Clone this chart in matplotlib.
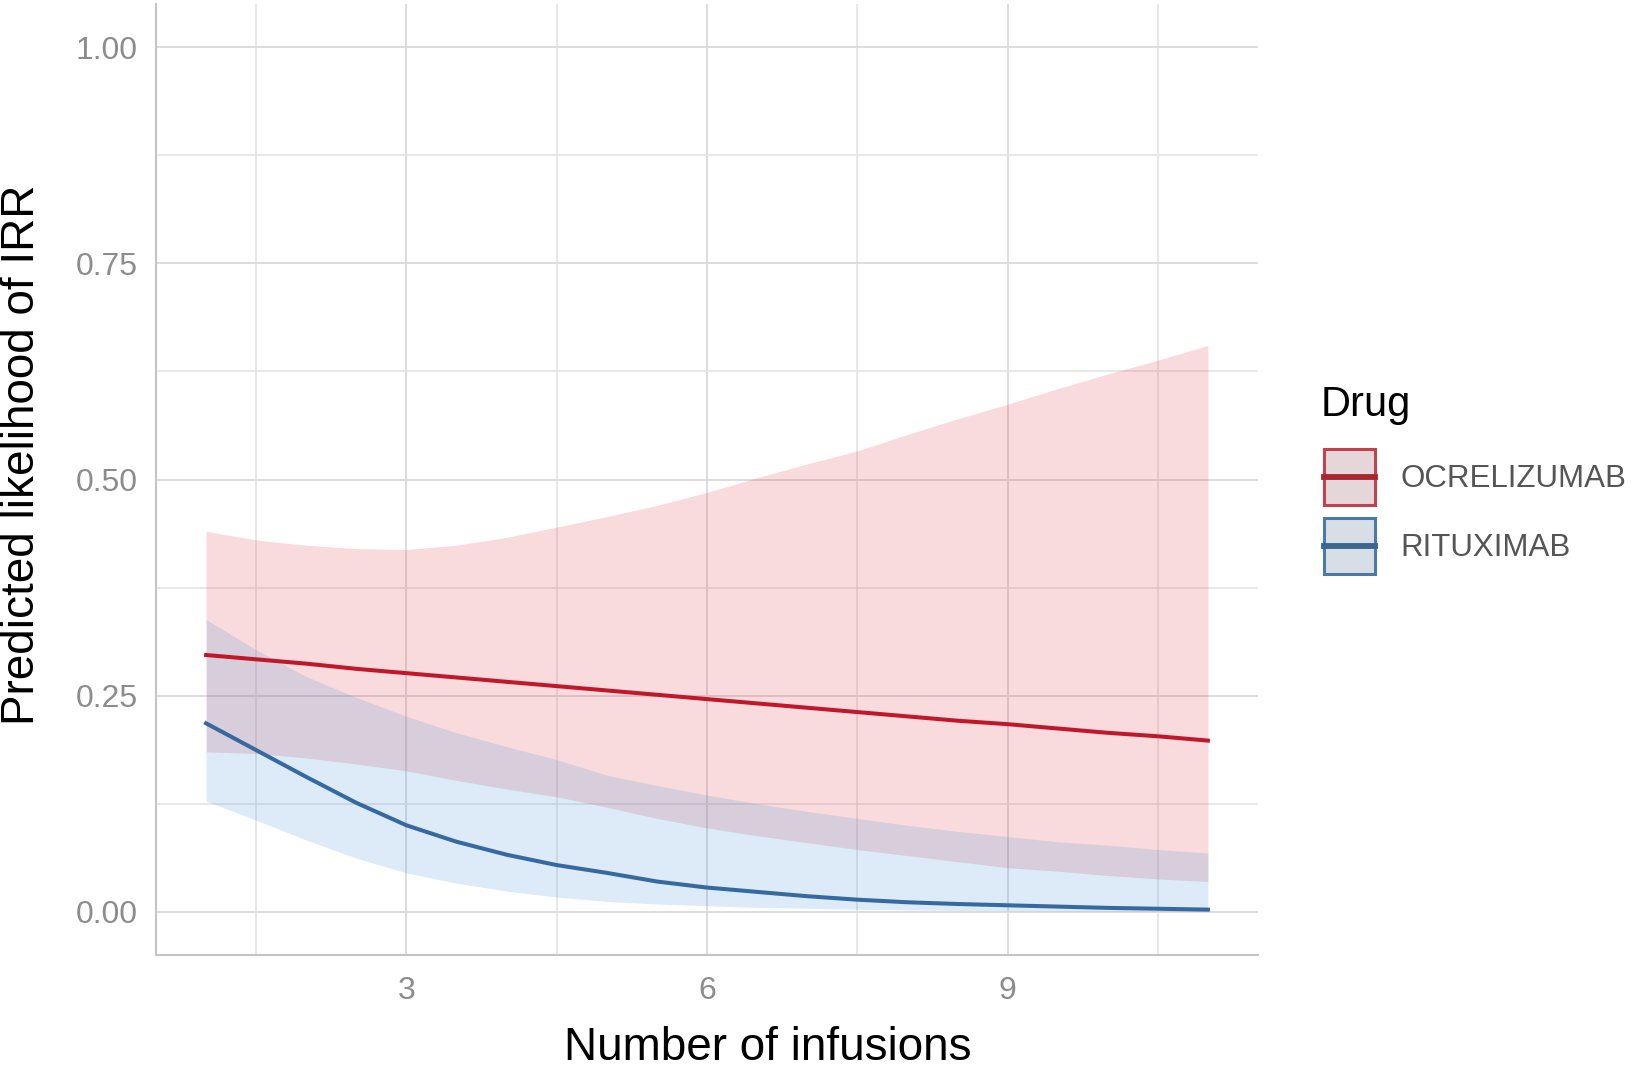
import matplotlib
matplotlib.use("Agg")
import matplotlib.pyplot as plt
from matplotlib.patches import Rectangle, Patch
from matplotlib.lines import Line2D

plt.rcParams['font.family'] = ['Liberation Sans', 'DejaVu Sans']

# ---- data ----
infusions = [1, 1.5, 2, 2.5, 3, 3.5, 4, 4.5, 5, 5.5, 6, 6.5, 7, 7.5, 8, 8.5, 9, 9.5, 10, 10.5, 11]
ocre_fit = [0.297, 0.292, 0.287, 0.281, 0.276, 0.271, 0.266, 0.261, 0.256, 0.251, 0.246,
            0.241, 0.236, 0.231, 0.226, 0.221, 0.217, 0.212, 0.207, 0.203, 0.198]
ocre_lo = [0.185, 0.183, 0.178, 0.171, 0.163, 0.152, 0.142, 0.133, 0.121, 0.108, 0.097,
           0.088, 0.080, 0.072, 0.065, 0.058, 0.051, 0.047, 0.042, 0.038, 0.035]
ocre_hi = [0.440, 0.430, 0.424, 0.420, 0.419, 0.424, 0.433, 0.445, 0.457, 0.470, 0.485,
           0.502, 0.518, 0.533, 0.552, 0.570, 0.587, 0.605, 0.622, 0.638, 0.655]
ritu_fit = [0.218, 0.187, 0.156, 0.126, 0.100, 0.081, 0.066, 0.054, 0.045, 0.035, 0.028,
            0.023, 0.018, 0.014, 0.011, 0.009, 0.0075, 0.006, 0.0045, 0.0035, 0.0025]
ritu_lo = [0.128, 0.106, 0.083, 0.062, 0.045, 0.033, 0.024, 0.017, 0.012, 0.009, 0.007,
           0.005, 0.004, 0.003, 0.0022, 0.0016, 0.0012, 0.0009, 0.0007, 0.0005, 0.0004]
ritu_hi = [0.338, 0.303, 0.272, 0.248, 0.226, 0.207, 0.191, 0.176, 0.158, 0.146, 0.135,
           0.125, 0.116, 0.108, 0.100, 0.093, 0.087, 0.081, 0.077, 0.072, 0.068]
drugs = ["OCRELIZUMAB", "RITUXIMAB"]
y_ticks = [0.0, 0.25, 0.5, 0.75, 1.0]
y_ticklabels = ["0.00", "0.25", "0.50", "0.75", "1.00"]
x_ticks = [3, 6, 9]

red_line = "#c0182a"
blue_line = "#3569a0"
red_fill = (225/255, 70/255, 85/255)
blue_fill = (80/255, 155/255, 215/255)

W, H = 1639, 1077
fig = plt.figure(figsize=(W / 100, H / 100), dpi=100)
ax = fig.add_axes([156 / W, 1 - 955 / H, (1258 - 156) / W, (955 - 4) / H])

ax.fill_between(infusions, ocre_lo, ocre_hi, color=red_fill, alpha=0.2, linewidth=0, zorder=2)
ax.fill_between(infusions, ritu_lo, ritu_hi, color=blue_fill, alpha=0.2, linewidth=0, zorder=2)
ax.plot(infusions, ocre_fit, color=red_line, lw=2.9, zorder=3)
ax.plot(infusions, ritu_fit, color=blue_line, lw=2.9, zorder=3)

ax.set_xlim(0.5, 11.5)
ax.set_ylim(-0.05, 1.05)
ax.set_xticks(x_ticks)
ax.set_xticks([1.5, 4.5, 7.5, 10.5], minor=True)
ax.set_yticks(y_ticks)
ax.set_yticklabels(y_ticklabels)
ax.set_yticks([0.125, 0.375, 0.625, 0.875], minor=True)
ax.grid(True, which='major', color='#dadada', lw=1.3, zorder=0)
ax.grid(True, which='minor', color='#e2e2e2', lw=1.1, zorder=0)
ax.set_axisbelow(True)
ax.tick_params(which='both', length=0)
ax.tick_params(axis='y', labelsize=23, labelcolor='#8c8c8c', pad=13)
ax.tick_params(axis='x', labelsize=23, labelcolor='#8c8c8c', pad=15)
for s in ['top', 'right']:
    ax.spines[s].set_visible(False)
for s in ['left', 'bottom']:
    ax.spines[s].set_color('#c4c4c4')
    ax.spines[s].set_linewidth(1.5)

fig.text(768 / W, 1 - 1060 / H, "Number of infusions", fontsize=33, color='black',
         ha='center', va='baseline')
fig.text(22 / W, 1 - 455 / H, "Predicted likelihood of IRR", fontsize=33, color='black',
         ha='center', va='center', rotation=90)


class KeyHandler:
    def __init__(self, face, edge, line):
        self.face, self.edge, self.line = face, edge, line

    def legend_artist(self, legend, orig_handle, fontsize, handlebox):
        x0, y0 = -handlebox.xdescent, -handlebox.ydescent
        w, h = handlebox.width, handlebox.height
        rect = Rectangle((x0 + 1.5, y0 + 1.5), w - 3, h - 3, facecolor=self.face,
                         edgecolor=self.edge, linewidth=2.2, transform=handlebox.get_transform())
        ln = Line2D([x0 + 1.5, x0 + w - 1.5], [y0 + h / 2, y0 + h / 2], color=self.line,
                    lw=4.2, transform=handlebox.get_transform())
        handlebox.add_artist(rect)
        handlebox.add_artist(ln)
        return rect


h1 = Patch(label=drugs[0])
h2 = Patch(label=drugs[1])
leg = fig.legend([h1, h2], drugs, loc='upper left', bbox_to_anchor=(1322 / W, 1 - 447 / H),
                 frameon=False, fontsize=22.5, borderpad=0, borderaxespad=0,
                 handler_map={h1: KeyHandler('#e4d6d9', '#c2434d', '#a8272f'),
                              h2: KeyHandler('#d8dee6', '#4b7aa6', '#3a6690')},
                 handlelength=1.75, handleheight=2.6, handletextpad=0.75,
                 labelspacing=0.27)
for t in leg.get_texts():
    t.set_color('#555555')
fig.text(1321 / W, 1 - 416 / H, "Drug", fontsize=30, color='black', ha='left', va='baseline')

fig.savefig("out.png", dpi=100)
